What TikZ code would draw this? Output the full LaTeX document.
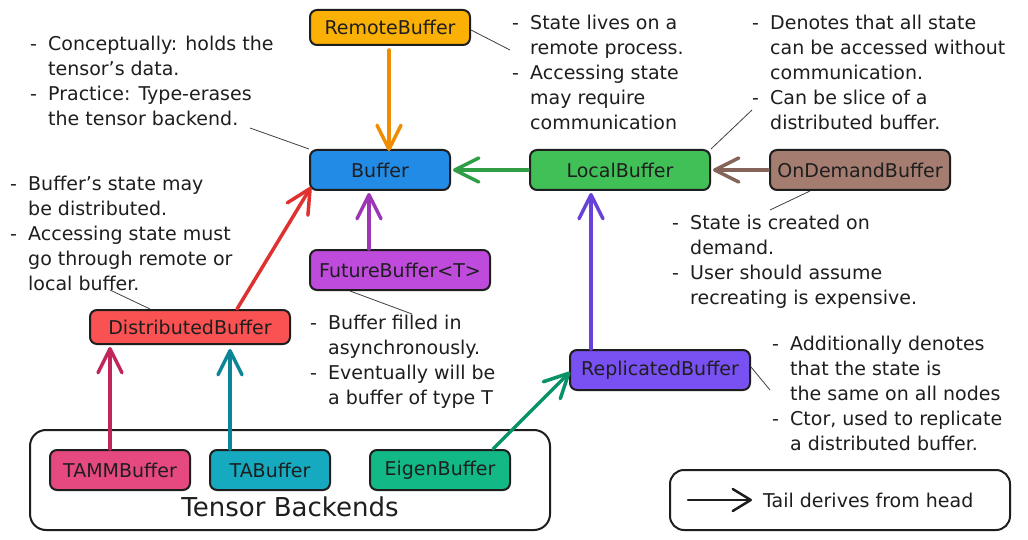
\documentclass[tikz,border=0pt]{standalone}
\usepackage{fontspec}
\setmainfont{DejaVu Sans}
\usetikzlibrary{arrows.meta}
\definecolor{ink}{HTML}{1E1E1E}
\definecolor{fRemote}{HTML}{FAB005}
\definecolor{fBuffer}{HTML}{228BE6}
\definecolor{fLocal}{HTML}{40C057}
\definecolor{fDemand}{HTML}{A47D70}
\definecolor{fFuture}{HTML}{BE4BDB}
\definecolor{fDist}{HTML}{FA5252}
\definecolor{fRepl}{HTML}{7950F2}
\definecolor{fTamm}{HTML}{E64980}
\definecolor{fTa}{HTML}{15AABF}
\definecolor{fEigen}{HTML}{12B886}
\definecolor{aRemote}{HTML}{F08C00}
\definecolor{aLocal}{HTML}{2F9E44}
\definecolor{aDemand}{HTML}{846358}
\definecolor{aFuture}{HTML}{9C36B5}
\definecolor{aDist}{HTML}{E03131}
\definecolor{aRepl}{HTML}{6741D9}
\definecolor{aTamm}{HTML}{C2255C}
\definecolor{aTa}{HTML}{0C8599}
\definecolor{aEigen}{HTML}{099268}
\newcommand{\itm}[1]{\makebox[18pt][l]{-}#1\strut}
\newcommand{\cnt}[1]{\hspace*{18pt}#1\strut}
\begin{document}
\begin{tikzpicture}[x=1pt,y=-1pt,
  every node/.style={text=ink},
  box/.style={draw=ink, line width=2pt, rounded corners=7pt, inner sep=0pt,
    font=\fontsize{19}{25}\selectfont},
  frame/.style={draw=ink, line width=2pt, rounded corners=16pt, inner sep=0pt},
  note/.style={anchor=north west, align=left, inner sep=0pt,
    font=\fontsize{19}{25}\selectfont},
  link/.style={line width=3.5pt, line cap=round,
    -{Straight Barb[length=24pt,width=24pt,round]}},
  leader/.style={draw=ink!85, line width=0.8pt},
]
\useasboundingbox (0,0) rectangle (1028,540);
\fill[white] (0,0) rectangle (1028,540);

% containers
\node[frame, minimum width=520pt, minimum height=100pt] (backends) at (290,480) {};
\node[inner sep=0pt, font=\fontsize{26}{30}\selectfont] (backlabel) at (290,507) {Tensor Backends};
\node[frame, rounded corners=14pt, minimum width=340pt, minimum height=60pt] (legend) at (840,500) {};

% boxes
\node[box, fill=fRemote, minimum width=160pt, minimum height=35pt] (remote) at (390,27.5) {RemoteBuffer};
\node[box, fill=fBuffer, minimum width=140pt, minimum height=40pt] (buffer) at (380,170) {Buffer};
\node[box, fill=fLocal, minimum width=180pt, minimum height=40pt] (local) at (620,170) {LocalBuffer};
\node[box, fill=fDemand, minimum width=180pt, minimum height=40pt] (ondemand) at (860,170) {OnDemandBuffer};
\node[box, fill=fFuture, minimum width=180pt, minimum height=40pt] (future) at (400,270) {FutureBuffer<T>};
\node[box, fill=fDist, minimum width=200pt, minimum height=34pt] (dist) at (190,327) {DistributedBuffer};
\node[box, fill=fRepl, minimum width=180pt, minimum height=40pt] (repl) at (660,370) {ReplicatedBuffer};
\node[box, fill=fTamm, minimum width=140pt, minimum height=40pt] (tamm) at (120,470) {TAMMBuffer};
\node[box, fill=fTa, minimum width=120pt, minimum height=40pt] (ta) at (270,470) {TABuffer};
\node[box, fill=fEigen, minimum width=140pt, minimum height=40pt] (eigen) at (440,470) {EigenBuffer};

% notes
\node[note] (bufnote) at (30,32.5) {\itm{Conceptually: holds the}\\\cnt{tensor's data.}\\\itm{Practice: Type-erases}\\\cnt{the tensor backend.}};
\node[note] (distnote) at (10,172.5) {\itm{Buffer's state may}\\\cnt{be distributed.}\\\itm{Accessing state must}\\\cnt{go through remote or}\\\cnt{local buffer.}};
\node[note] (remotenote) at (512,11.5) {\itm{State lives on a}\\\cnt{remote process.}\\\itm{Accessing state}\\\cnt{may require}\\\cnt{communication}};
\node[note] (localnote) at (752,11.5) {\itm{Denotes that all state}\\\cnt{can be accessed without}\\\cnt{communication.}\\\itm{Can be slice of a}\\\cnt{distributed buffer.}};
\node[note] (odnote) at (672,211.5) {\itm{State is created on}\\\cnt{demand.}\\\itm{User should assume}\\\cnt{recreating is expensive.}};
\node[note] (futnote) at (310,311.5) {\itm{Buffer filled in}\\\cnt{asynchronously.}\\\itm{Eventually will be}\\\cnt{a buffer of type T}};
\node[note] (replnote) at (772,332.5) {\itm{Additionally denotes}\\\cnt{that the state is}\\\cnt{the same on all nodes}\\\itm{Ctor, used to replicate}\\\cnt{a distributed buffer.}};

% leader lines
\coordinate (n1) at (250,128);
\coordinate (n2) at (510,50);
\coordinate (n3) at (752,110);
\coordinate (n4) at (770,210);
\coordinate (n5) at (412,314);
\coordinate (n6) at (110,290);
\coordinate (n7) at (770,390);
\draw[leader] (buffer.north west) -- (n1);
\draw[leader] ([yshift=-2.5pt]remote.east) -- (n2);
\draw[leader] (local.north east) -- (n3);
\draw[leader] ([xshift=-50pt]ondemand.south) -- (n4);
\draw[leader] ([xshift=-50pt]future.south) -- (n5);
\draw[leader] ([xshift=-40pt]dist.north) -- (n6);
\draw[leader] ([yshift=3pt]repl.east) -- (n7);

% derivation arrows
\draw[link, aRemote] ([xshift=-1pt,yshift=-4pt]remote.south) -- ([xshift=-1pt,yshift=-2pt]remote.south |- buffer.north);
\draw[link, aLocal] ([xshift=-1pt]local.west) -- ([xshift=2pt]buffer.east);
\draw[link, aDemand] ([xshift=-1pt]ondemand.west) -- ([xshift=2pt]local.east);
\draw[link, aFuture] ([xshift=-31pt]future.north) -- ([xshift=-31pt,yshift=-2pt]future.north |- buffer.south);
\draw[link, aDist] ([xshift=47pt]dist.north) -- ([shift={(2pt,4pt)}]buffer.south west);
\draw[link, aRepl] ([xshift=-69pt]repl.north) -- ([xshift=-69pt,yshift=-2pt]repl.north |- local.south);
\draw[link, aTamm] ([xshift=-10pt]tamm.north) -- ([xshift=-10pt,yshift=-2pt]tamm.north |- dist.south);
\draw[link, aTa] ([xshift=-40pt]ta.north) -- ([xshift=-40pt,yshift=-4pt]ta.north |- dist.south);
\draw[link, aEigen] ([xshift=-18pt]eigen.north east) -- ([shift={(1pt,-2pt)}]repl.west);

% legend
\coordinate (lgA) at (688,500);
\coordinate (lgB) at (752,500);
\draw[link, ink, line width=2.5pt, -{Straight Barb[length=18pt,width=22pt,round]}] (lgA) -- (lgB);
\node[anchor=west, inner sep=0pt, font=\fontsize{19}{25}\selectfont] (legtext) at (763,500) {Tail derives from head};
\end{tikzpicture}
\end{document}
